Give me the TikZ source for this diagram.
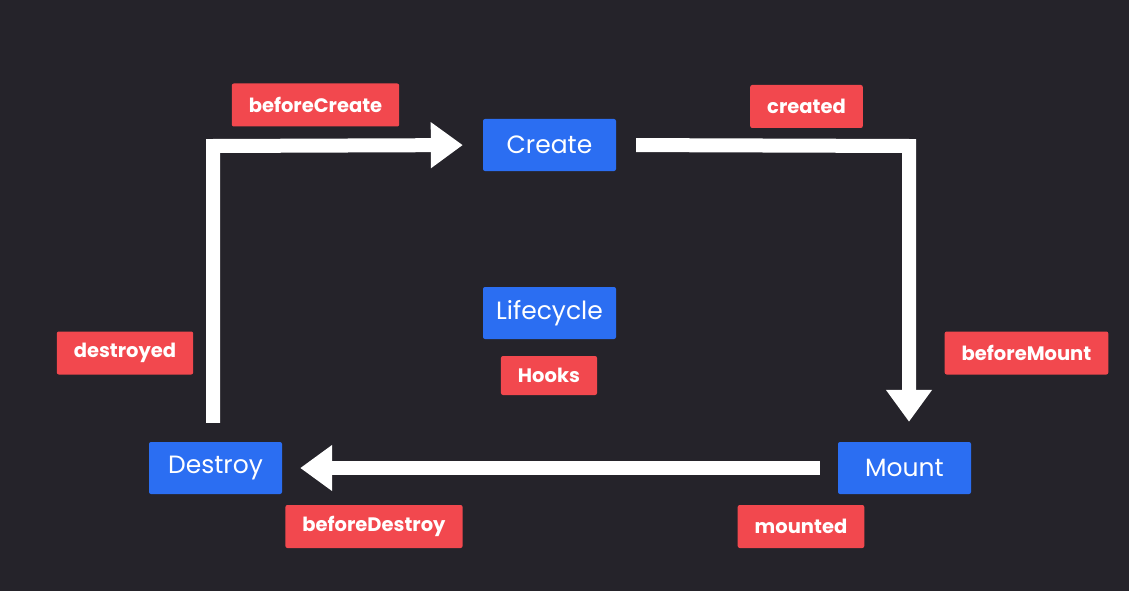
\documentclass[tikz,border=0pt]{standalone}
\usepackage{fontspec}
\setmainfont{Poppins}
\usetikzlibrary{arrows.meta}
\definecolor{bgdark}{HTML}{25232A}
\definecolor{boxblue}{HTML}{2B6EF2}
\definecolor{tagred}{HTML}{F2484E}
\begin{document}
\begin{tikzpicture}[
		x=1pt,
		y=-1pt,
		font=\fontsize{25}{28}\selectfont
	]
	\tikzset{
		stage/.style = {rectangle, fill=boxblue, text=white, rounded corners=2pt, minimum width=133pt, minimum height=52pt, inner sep=0pt},
		hook/.style = {rectangle, fill=tagred, text=white, rounded corners=2pt, minimum height=43pt, inner xsep=17pt, font=\bfseries\fontsize{19.5}{22}\selectfont},
		flow/.style = {draw=white, line width=14pt, line join=miter, -{Triangle[length=32pt,width=44pt]}},
	}
	\fill[bgdark] (0,0) rectangle (1129,591);
	\useasboundingbox (0,0) rectangle (1129,591);
	\node[stage] at (549.5,145) (create) {Create};
	\node[stage] at (549.5,313) (lifecycle) {Lifecycle};
	\node[stage] at (904.5,468) (mount) {Mount};
	\node[stage] at (215.5,468) (destroy) {Destroy};
	%
	\node[hook, minimum height=39pt] at (549,375.5) (hooks) {Hooks};
	\node[hook] at (315.5,105) (beforecreate) {beforeCreate};
	\node[hook] at (806.5,106.5) (created) {created};
	\node[hook] at (1026.5,353) (beforemount) {beforeMount};
	\node[hook] at (801,526.5) (mounted) {mounted};
	\node[hook] at (374,526.5) (beforedestroy) {beforeDestroy};
	\node[hook] at (125,353) (destroyed) {destroyed};
	%
	\coordinate (tl) at (213,146);
	\coordinate (tr) at (909,146);
	\draw[flow, shorten <=19pt, shorten >=20pt] (destroy.north -| tl) -- (tl) -- (create.west);
	\draw[flow, shorten <=20pt, shorten >=20pt] (create.east) -- (tr) -- (mount.north -| tr);
	\draw[flow, shorten <=18pt, shorten >=18pt] (mount.west) -- (destroy.east);
\end{tikzpicture}
\end{document}
